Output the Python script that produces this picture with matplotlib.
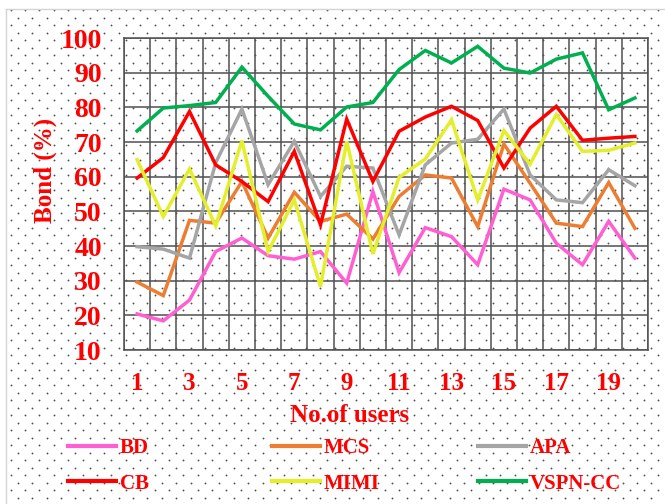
import numpy as np
import matplotlib
matplotlib.use("Agg")
import matplotlib.pyplot as plt

plt.rcParams["font.family"] = ["Liberation Serif", "DejaVu Serif"]
plt.rcParams["font.weight"] = "bold"

users = np.arange(1, 21)
xticks = [1, 3, 5, 7, 9, 11, 13, 15, 17, 19]
yticks = [10, 20, 30, 40, 50, 60, 70, 80, 90, 100]

bd = [20.4, 18.4, 24.4, 38.4, 42.3, 37.2, 36.2, 38.4, 29.3, 55.7,
      32.3, 45.3, 42.7, 34.6, 56.4, 53.3, 40.8, 34.6, 47.1, 36.5]
mcs = [29.6, 25.7, 47.4, 46.6, 58.6, 42.3, 55.5, 47.1, 49.2, 42.0,
       54.3, 60.5, 59.6, 45.6, 69.4, 58.1, 46.6, 45.6, 58.3, 45.1]
apa = [39.8, 39.1, 36.5, 64.0, 79.5, 57.7, 70.2, 54.3, 63.0, 62.5,
       43.2, 63.4, 69.7, 70.8, 79.5, 60.5, 53.3, 52.5, 62.0, 57.4]
cb = [59.6, 65.5, 78.8, 63.4, 58.6, 52.8, 67.3, 46.1, 76.6, 58.6,
      73.1, 77.2, 80.3, 76.2, 62.5, 74.0, 80.3, 70.5, 71.1, 71.6]
mimi = [64.9, 48.5, 62.2, 45.8, 70.4, 38.4, 53.3, 28.3, 70.2, 37.7,
        59.8, 65.1, 76.4, 53.3, 73.3, 63.6, 77.9, 67.3, 67.6, 69.7]
vspn = [73.2, 79.8, 80.5, 81.4, 91.6, 83.2, 75.2, 73.5, 80.1, 81.4,
        90.9, 96.4, 92.8, 97.6, 91.3, 89.9, 93.9, 95.7, 79.3, 82.7]

names = ["BD", "MCS", "APA", "CB", "MIMI", "VSPN-CC"]
series = [bd, mcs, apa, cb, mimi, vspn]
colors = ["#FF5FD2", "#ED7D31", "#A5A5A5", "#FF0000", "#E4EE2A", "#00B050"]

W, H = 665, 504
fig = plt.figure(figsize=(W / 100, H / 100), dpi=100)

# dotted background (chart area pattern fill)
bg = fig.add_axes([0, 0, 1, 1], zorder=-1)
bg.set_xlim(0, W); bg.set_ylim(H, 0); bg.axis("off")
rows = np.arange(10, H, 7.5)
dx, dy = [], []
for k, yy in enumerate(rows):
    xs = np.arange(10.5 + (7.2 if k % 2 else 0), W, 14.4)
    dx.extend(xs); dy.extend([yy] * len(xs))
bg.scatter(dx, dy, s=1.8, color="#505050", linewidths=0)
bg.plot([6, 6], [9, H], color="#d4d4d4", lw=1)
bg.plot([6, W], [9, 9], color="#d4d4d4", lw=1)

ax = fig.add_axes([124 / W, 1 - 350 / H, 524 / W, 312 / H])
ax.patch.set_alpha(0)
lines = []
for name, vals, c in zip(names, series, colors):
    ln, = ax.plot(users, vals, color=c, lw=2.5, label=name, solid_joinstyle="miter")
    lines.append(ln)

ax.set_xlim(0.5, 20.5)
ax.set_ylim(10, 100)
ax.set_xticks(xticks)
ax.set_xticks(np.arange(0.5, 21, 1), minor=True)
ax.set_yticks(yticks)
ax.grid(True, which="minor", axis="x", color="#505050", lw=1.1)
ax.grid(True, which="major", axis="y", color="#505050", lw=1.1)
ax.set_axisbelow(True)
for s in ax.spines.values():
    s.set_color("#505050"); s.set_linewidth(1.1)
ax.tick_params(axis="both", which="both", length=0)
ax.tick_params(axis="x", pad=16, labelsize=18, labelcolor="red")
ax.tick_params(axis="y", pad=16, labelsize=20, labelcolor="red")
for t in ax.get_xticklabels() + ax.get_yticklabels():
    t.set_fontweight("bold")

fig.text(350 / W, 1 - 416 / H, "No.of users", color="red", fontsize=18,
         fontweight="bold", ha="center", va="center")
fig.text(45 / W, 1 - 170 / H, "Bond (%)", color="red", fontsize=18,
         fontweight="bold", ha="center", va="center", rotation=90)

# legend: three columns of two entries
cols = [(68, [0, 3]), (272, [1, 4]), (478, [2, 5])]
for x0, idx in cols:
    lg = fig.legend([lines[i] for i in idx], [names[i] for i in idx],
                    loc="upper left", bbox_to_anchor=(x0 / W, 1 - 438 / H),
                    frameon=False, borderpad=0, borderaxespad=0,
                    handlelength=2.3, handletextpad=0.2, labelspacing=0.75,
                    prop={"size": 15, "weight": "bold"})
    for t in lg.get_texts():
        t.set_color("red")
    for h in lg.legend_handles:
        h.set_linewidth(3)

fig.savefig("out.png", dpi=100)
